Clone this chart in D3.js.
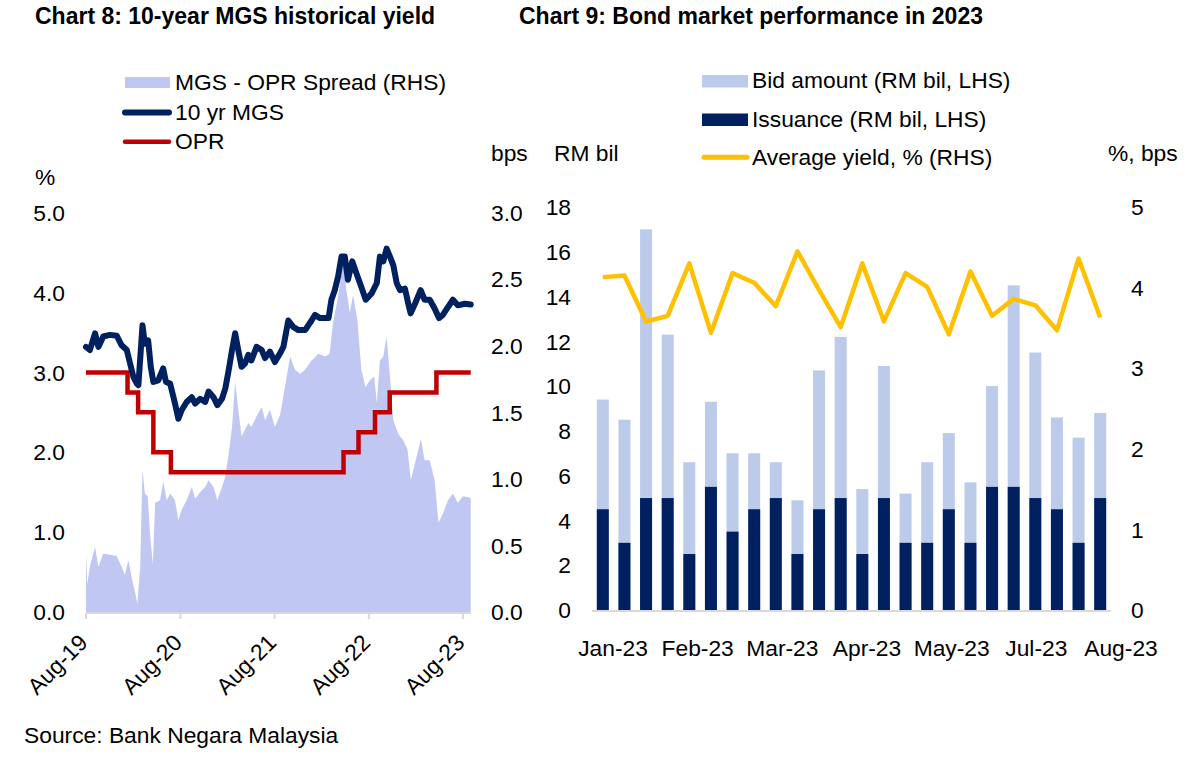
<!DOCTYPE html>
<html><head><meta charset="utf-8">
<script src="https://cdn.jsdelivr.net/npm/d3@7/dist/d3.min.js"></script>
<style>
body{margin:0;background:#fff;}
svg{display:block;}
text{font-family:"Liberation Sans",Arial,sans-serif;fill:#000;font-size:22.8px;}
</style>
</head><body>
<svg id="c" width="1192" height="768"></svg>
<script>
// ---------- Chart 8 data ----------
const mgsDates = ["2019-08-01","2019-08-16","2019-09-05","2019-09-18","2019-10-07","2019-11-02","2019-11-28","2019-12-17","2020-01-06","2020-01-19","2020-02-01","2020-02-14","2020-02-20","2020-03-07","2020-03-16","2020-03-29","2020-04-08","2020-04-18","2020-05-07","2020-05-26","2020-06-06","2020-06-22","2020-07-11","2020-07-24","2020-08-06","2020-08-25","2020-09-14","2020-09-27","2020-10-16","2020-11-05","2020-11-18","2020-12-07","2020-12-22","2021-01-09","2021-01-22","2021-02-04","2021-02-17","2021-03-01","2021-03-13","2021-03-26","2021-04-08","2021-04-21","2021-05-03","2021-05-23","2021-06-12","2021-06-25","2021-07-14","2021-08-02","2021-08-22","2021-09-04","2021-09-23","2021-10-12","2021-11-01","2021-11-27","2021-12-22","2022-01-04","2022-01-24","2022-02-26","2022-03-09","2022-03-22","2022-04-04","2022-04-17","2022-04-30","2022-05-12","2022-05-29","2022-06-14","2022-07-03","2022-07-20","2022-08-12","2022-09-01","2022-09-13","2022-09-26","2022-10-09","2022-10-22","2022-11-04","2022-11-17","2022-11-30","2022-12-19","2023-01-01","2023-01-10","2023-01-27","2023-02-18","2023-03-05","2023-03-25","2023-04-13","2023-04-30","2023-05-15","2023-06-04","2023-06-23","2023-07-12","2023-08-08","2023-08-31"];
const mgsValues = [3.32,3.28,3.49,3.32,3.45,3.47,3.46,3.34,3.28,3.11,2.94,2.86,2.84,3.59,3.36,3.40,3.07,2.88,2.90,3.05,2.88,2.86,2.61,2.42,2.53,2.63,2.69,2.61,2.67,2.63,2.76,2.69,2.59,2.67,2.80,3.03,3.28,3.49,3.28,3.07,3.11,3.22,3.15,3.32,3.28,3.18,3.26,3.13,3.24,3.32,3.65,3.57,3.53,3.53,3.65,3.72,3.68,3.68,3.91,4.03,4.20,4.45,4.45,4.16,4.39,4.24,4.07,3.91,3.99,4.12,4.45,4.39,4.55,4.45,4.34,4.12,4.03,4.05,3.86,3.74,3.86,4.03,3.91,3.91,3.80,3.68,3.72,3.82,3.91,3.84,3.86,3.85];

const spreadDates = ["2019-08-01","2019-08-06","2019-08-16","2019-09-05","2019-09-18","2019-10-07","2019-11-02","2019-11-28","2019-12-17","2019-12-30","2020-01-12","2020-01-25","2020-02-08","2020-02-16","2020-02-27","2020-03-07","2020-03-16","2020-03-27","2020-04-05","2020-04-16","2020-04-25","2020-05-14","2020-05-26","2020-06-09","2020-06-22","2020-07-11","2020-07-24","2020-08-06","2020-08-25","2020-09-14","2020-09-27","2020-10-16","2020-11-05","2020-11-18","2020-12-07","2020-12-22","2021-01-09","2021-01-22","2021-02-04","2021-02-17","2021-03-01","2021-03-13","2021-03-26","2021-04-08","2021-04-21","2021-05-03","2021-05-23","2021-06-12","2021-06-25","2021-07-14","2021-08-02","2021-08-22","2021-09-10","2021-09-30","2021-10-19","2021-11-08","2021-11-27","2021-12-22","2022-01-18","2022-02-13","2022-03-02","2022-03-15","2022-04-04","2022-04-23","2022-05-06","2022-05-19","2022-06-01","2022-06-18","2022-07-03","2022-07-19","2022-08-05","2022-08-22","2022-09-01","2022-09-13","2022-09-26","2022-10-09","2022-10-22","2022-11-04","2022-11-23","2022-12-12","2022-12-29","2023-01-11","2023-01-27","2023-02-19","2023-03-05","2023-03-25","2023-04-13","2023-04-28","2023-05-15","2023-06-04","2023-06-23","2023-07-12","2023-08-01","2023-08-27","2023-08-31"];
const spreadValues = [0.44,0.21,0.34,0.49,0.34,0.44,0.43,0.42,0.34,0.28,0.39,0.26,0.14,0.06,0.34,1.07,0.89,0.87,0.59,0.36,0.82,0.84,0.98,0.84,0.89,0.84,0.69,0.77,0.84,0.94,0.85,0.90,0.94,0.99,0.94,0.84,0.94,1.02,1.19,1.39,1.73,1.52,1.32,1.37,1.42,1.39,1.47,1.54,1.44,1.52,1.39,1.48,1.69,1.92,1.82,1.79,1.82,1.89,1.94,1.92,1.94,2.17,2.37,2.62,2.42,2.25,2.38,2.19,1.82,1.69,1.74,1.77,1.57,1.89,1.92,2.07,1.77,1.44,1.34,1.29,1.22,0.99,1.12,1.30,1.14,1.14,0.99,0.67,0.74,0.84,0.89,0.82,0.87,0.86,0.85];

const oprDates = ["2019-08-01","2020-01-09","2020-02-19","2020-04-18","2020-06-25","2022-04-25","2022-06-22","2022-08-25","2022-10-21","2023-04-20","2023-08-31"];
const oprValues = [3.00,2.75,2.50,2.00,1.75,2.00,2.25,2.50,2.75,3.00,3.00];

const leftTicks8 = [0,1,2,3,4,5];
const rightTicks8 = [0,0.5,1,1.5,2,2.5,3];
const xTickDates8 = ["2019-08-01","2020-08-01","2021-08-01","2022-08-01","2023-08-01"];
const xTickLabels8 = ["Aug-19","Aug-20","Aug-21","Aug-22","Aug-23"];

// ---------- Chart 9 data ----------
const auctions = ["A01","A02","A03","A04","A05","A06","A07","A08","A09","A10","A11","A12","A13","A14","A15","A16","A17","A18","A19","A20","A21","A22","A23","A24"];
const bidAmount = [9.4,8.5,17.0,12.3,6.6,9.3,7.0,7.0,6.6,4.9,10.7,12.2,5.4,10.9,5.2,6.6,7.9,5.7,10.0,14.5,11.5,8.6,7.7,8.8];
const issuance = [4.5,3.0,5.0,5.0,2.5,5.5,3.5,4.5,5.0,2.5,4.5,5.0,2.5,5.0,3.0,3.0,4.5,3.0,5.5,5.5,5.0,4.5,3.0,5.0];
const avgYield = [4.13,4.15,3.58,3.65,4.30,3.44,4.18,4.06,3.77,4.45,3.97,3.51,4.30,3.58,4.18,4.01,3.42,4.20,3.65,3.86,3.78,3.47,4.36,3.63];
const leftTicks9 = [0,2,4,6,8,10,12,14,16,18];
const rightTicks9 = [0,1,2,3,4,5];
const xLabels9 = ["Jan-23","Feb-23","Mar-23","Apr-23","May-23","Jul-23","Aug-23"];

const C = {spread:"#c1c7f3", mgs:"#002060", opr:"#c00000", bid:"#bccbe9", iss:"#002060", yld:"#ffc000", axis:"#d9d9d9"};

const svg = d3.select("#c");
const parse = d3.timeParse("%Y-%m-%d");

// ================= Chart 8 =================
const g8 = svg.append("g");
const x8 = d3.scaleTime().domain([parse("2019-08-01"), parse("2023-09-01")]).range([86, 471]);
const yL8 = d3.scaleLinear().domain([0,5]).range([612, 212.7]);
const yR8 = d3.scaleLinear().domain([0,3]).range([612, 212.7]);

const spreadData = spreadDates.map((d,i)=>({d:parse(d), v:spreadValues[i]}));
g8.append("path").datum(spreadData)
  .attr("fill", C.spread)
  .attr("d", d3.area().x(p=>x8(p.d)).y0(yR8(0)).y1(p=>yR8(p.v)));

const oprData = oprDates.map((d,i)=>({d:parse(d), v:oprValues[i]}));
g8.append("path").datum(oprData)
  .attr("fill","none").attr("stroke", C.opr).attr("stroke-width",4.5)
  .attr("d", d3.line().curve(d3.curveStepAfter).x(p=>x8(p.d)).y(p=>yL8(p.v)));

const mgsData = mgsDates.map((d,i)=>({d:parse(d), v:mgsValues[i]}));
g8.append("path").datum(mgsData)
  .attr("fill","none").attr("stroke", C.mgs).attr("stroke-width",6)
  .attr("stroke-linejoin","round").attr("stroke-linecap","round")
  .attr("d", d3.line().x(p=>x8(p.d)).y(p=>yL8(p.v)));

// x axis
g8.append("line").attr("x1",86).attr("x2",471).attr("y1",613).attr("y2",613)
  .attr("stroke",C.axis).attr("stroke-width",2);
xTickDates8.forEach((d,i)=>{
  const xx = x8(parse(d));
  g8.append("line").attr("x1",xx).attr("x2",xx).attr("y1",613).attr("y2",619)
    .attr("stroke",C.axis).attr("stroke-width",2);
  g8.append("text").attr("text-anchor","end")
    .attr("transform",`translate(${xx+3},644) rotate(-45)`).text(xTickLabels8[i]);
});
leftTicks8.forEach(v=>{
  g8.append("text").attr("x",65).attr("y",yL8(v)).attr("dy","0.36em")
    .attr("text-anchor","end").text(v.toFixed(1));
});
rightTicks8.forEach(v=>{
  g8.append("text").attr("x",491).attr("y",yR8(v)).attr("dy","0.36em")
    .attr("text-anchor","start").text(v.toFixed(1));
});
g8.append("text").attr("x",35).attr("y",185).text("%");
g8.append("text").attr("x",491).attr("y",161).text("bps");
g8.append("text").attr("x",35).attr("y",24).attr("font-weight","bold").style("font-size","23px")
  .text("Chart 8: 10-year MGS historical yield");

// legend 8
g8.append("rect").attr("x",125).attr("y",77).attr("width",45).attr("height",11).attr("fill",C.spread);
g8.append("text").attr("x",175).attr("y",90).text("MGS - OPR Spread (RHS)");
g8.append("line").attr("x1",125).attr("x2",169).attr("y1",112.5).attr("y2",112.5)
  .attr("stroke",C.mgs).attr("stroke-width",6).attr("stroke-linecap","round");
g8.append("text").attr("x",175).attr("y",119.5).text("10 yr MGS");
g8.append("line").attr("x1",125).attr("x2",169).attr("y1",141.7).attr("y2",141.7)
  .attr("stroke",C.opr).attr("stroke-width",4.5).attr("stroke-linecap","round");
g8.append("text").attr("x",175).attr("y",148.5).text("OPR");

g8.append("text").attr("x",24).attr("y",743).text("Source: Bank Negara Malaysia");

// ================= Chart 9 =================
const g9 = svg.append("g");
const x9 = d3.scaleBand().domain(auctions).range([592,1111]).paddingInner(0.445).paddingOuter(0.2225);
const yL9 = d3.scaleLinear().domain([0,18]).range([610, 207]);
const yR9 = d3.scaleLinear().domain([0,5]).range([610, 207]);

g9.selectAll("rect.bid").data(bidAmount).enter().append("rect").attr("class","bid")
  .attr("x",(v,i)=>x9(auctions[i])).attr("width",x9.bandwidth())
  .attr("y",v=>yL9(v)).attr("height",v=>yL9(0)-yL9(v)).attr("fill",C.bid);
g9.selectAll("rect.iss").data(issuance).enter().append("rect").attr("class","iss")
  .attr("x",(v,i)=>x9(auctions[i])).attr("width",x9.bandwidth())
  .attr("y",v=>yL9(v)).attr("height",v=>yL9(0)-yL9(v)).attr("fill",C.iss);

g9.append("line").attr("x1",592).attr("x2",1111).attr("y1",611).attr("y2",611)
  .attr("stroke",C.axis).attr("stroke-width",2);

g9.append("path").datum(avgYield)
  .attr("fill","none").attr("stroke",C.yld).attr("stroke-width",4.5).attr("stroke-linejoin","round")
  .attr("d", d3.line().x((v,i)=>x9(auctions[i])+x9.bandwidth()/2).y(v=>yR9(v)));

leftTicks9.forEach(v=>{
  g9.append("text").attr("x",571).attr("y",yL9(v)).attr("dy","0.36em")
    .attr("text-anchor","end").text(v);
});
rightTicks9.forEach(v=>{
  g9.append("text").attr("x",1131).attr("y",yR9(v)).attr("dy","0.36em")
    .attr("text-anchor","start").text(v);
});
const xl9 = d3.scalePoint().domain(xLabels9).range([613,1121]);
xLabels9.forEach(l=>{
  g9.append("text").attr("x",xl9(l)).attr("y",656).attr("text-anchor","middle").text(l);
});
g9.append("text").attr("x",554).attr("y",161).text("RM bil");
g9.append("text").attr("x",1108).attr("y",161).text("%, bps");
g9.append("text").attr("x",519).attr("y",24).attr("font-weight","bold").style("font-size","23px")
  .text("Chart 9: Bond market performance in 2023");

// legend 9
g9.append("rect").attr("x",702).attr("y",75).attr("width",46).attr("height",12.5).attr("fill",C.bid);
g9.append("text").attr("x",752).attr("y",88).text("Bid amount (RM bil, LHS)");
g9.append("rect").attr("x",702).attr("y",113.5).attr("width",46).attr("height",12.5).attr("fill",C.iss);
g9.append("text").attr("x",752).attr("y",126.5).text("Issuance (RM bil, LHS)");
g9.append("line").attr("x1",704).attr("x2",747).attr("y1",157.3).attr("y2",157.3)
  .attr("stroke",C.yld).attr("stroke-width",5).attr("stroke-linecap","round");
g9.append("text").attr("x",752).attr("y",165).text("Average yield, % (RHS)");
</script>
</body></html>
